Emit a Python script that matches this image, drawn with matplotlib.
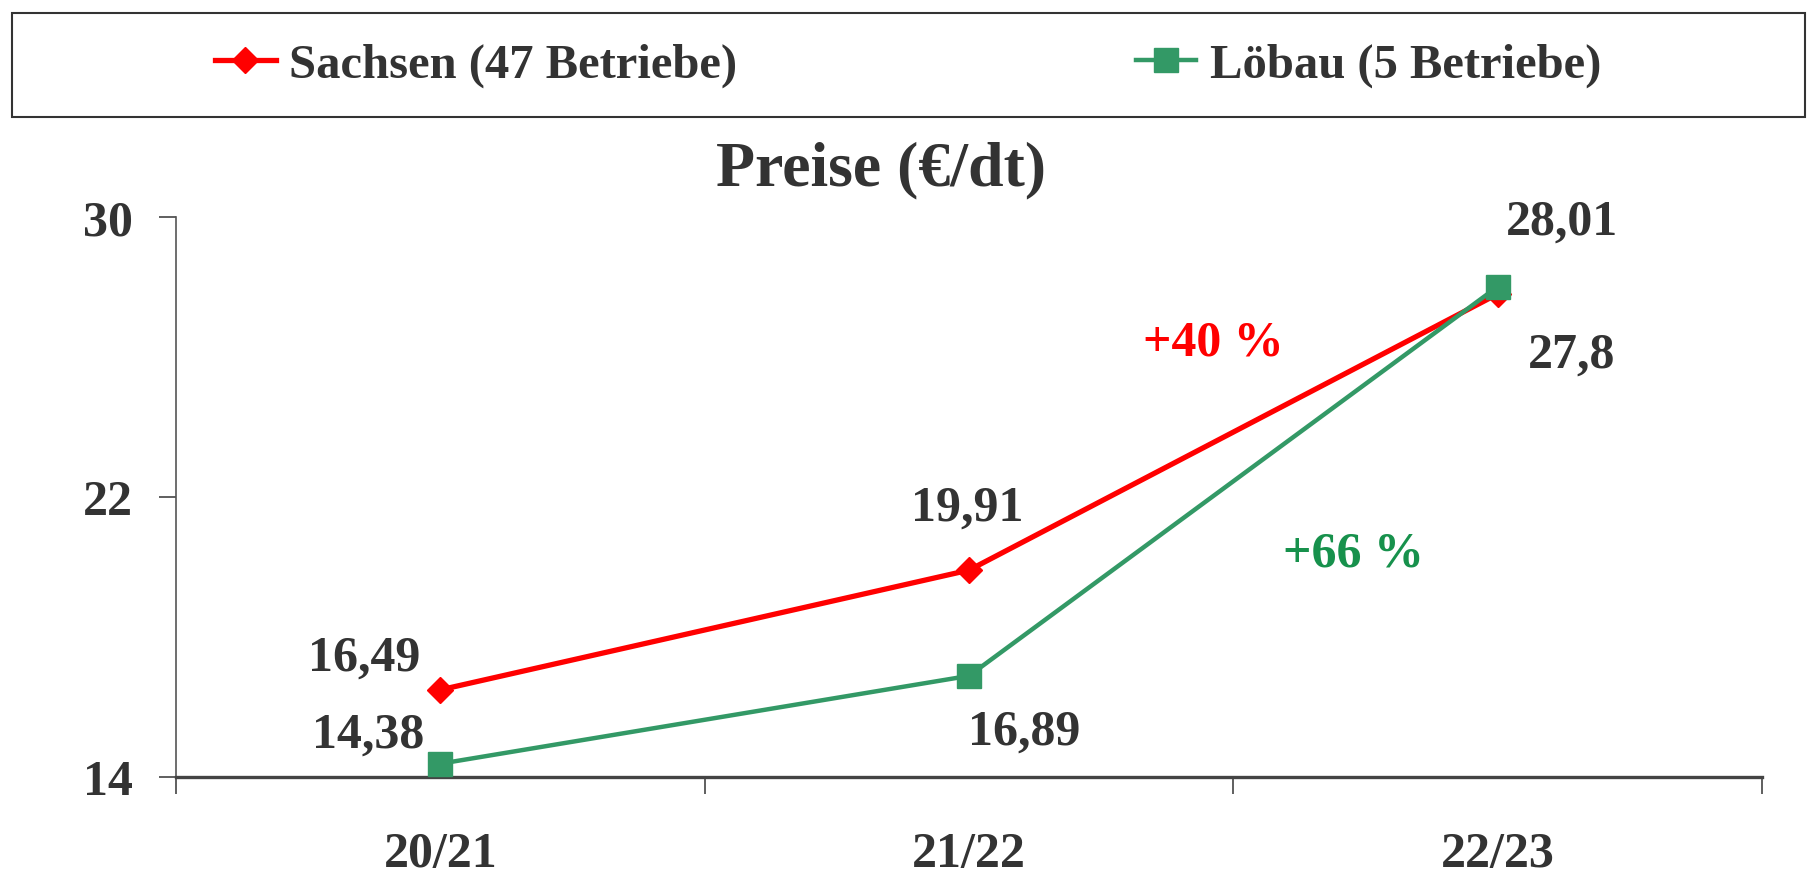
import matplotlib
matplotlib.use("Agg")
import matplotlib.pyplot as plt
from matplotlib.patches import Rectangle
from matplotlib.lines import Line2D

plt.rcParams['font.family'] = ['Liberation Serif', 'DejaVu Serif']
plt.rcParams['font.weight'] = 'bold'

seasons = ['20/21', '21/22', '22/23']
sachsen = [16.49, 19.91, 27.8]
loebau = [14.38, 16.89, 28.01]
sachsen_lbl = ['16,49', '19,91', '27,8']
loebau_lbl = ['14,38', '16,89', '28,01']
# label offsets in points (dx, dy)
sachsen_off = [(-55, 23), (-1, 45), (53, -44)]
loebau_off = [(-52, 21), (40, -40), (46, 47)]

TXT = '#333333'
RED = '#ff0000'
GREEN = '#339966'

fig = plt.figure(figsize=(18.08, 8.7), dpi=100)
ax = fig.add_axes([176 / 1808, 1 - 778 / 870, 1586 / 1808, 560 / 870])

x = list(range(len(seasons)))
ax.plot(x, sachsen, color=RED, lw=3.8, marker='D', ms=13, zorder=3)
ax.plot(x, loebau, color=GREEN, lw=3.2, marker='s', ms=17, zorder=4)

for xi, v, s, off in zip(x, sachsen, sachsen_lbl, sachsen_off):
    ax.annotate(s, (xi, v), xytext=off, textcoords='offset points',
                ha='center', va='center', fontsize=36, color=TXT)
for xi, v, s, off in zip(x, loebau, loebau_lbl, loebau_off):
    ax.annotate(s, (xi, v), xytext=off, textcoords='offset points',
                ha='center', va='center', fontsize=36, color=TXT)

ax.text(0.654, 0.776, '+40 %', transform=ax.transAxes, ha='center', va='center',
        fontsize=36, color=RED)
ax.text(0.7425, 0.399, '+66 %', transform=ax.transAxes, ha='center', va='center',
        fontsize=36, color='#17914c')

ax.set_xlim(-0.5, 2.5)
ax.set_ylim(14, 30)
ax.set_yticks([14, 22, 30])
ax.set_xticks(x)
ax.set_xticklabels(seasons)
ax.set_xticks([-0.5, 0.5, 1.5, 2.5], minor=True)
ax.tick_params(axis='x', which='major', length=0, pad=39, labelsize=36, labelcolor=TXT)
ax.tick_params(axis='x', which='minor', length=12, width=1.2, color='#444444', direction='out')
ax.tick_params(axis='y', length=12, width=1.2, color='#444444', pad=19, labelsize=36,
               labelcolor=TXT, direction='out')

for side in ['top', 'right']:
    ax.spines[side].set_visible(False)
ax.spines['left'].set_color('#555555')
ax.spines['left'].set_linewidth(1.2)
ax.spines['bottom'].set_color('#444444')
ax.spines['bottom'].set_linewidth(2.4)

fig.text(881 / 1808, 1 - 170 / 870, 'Preise (€/dt)', ha='center', va='center',
         fontsize=46, color=TXT)

# legend box spanning the width
fig.patches.append(Rectangle((12 / 1808, 1 - 118 / 870), 1793 / 1808, 104 / 870,
                             transform=fig.transFigure, fill=False,
                             edgecolor='#333333', lw=1.5))
handles = [Line2D([], [], color=RED, lw=3.8, marker='D', ms=13),
           Line2D([], [], color=GREEN, lw=3.2, marker='s', ms=17)]
fig.legend(handles, ['Sachsen (47 Betriebe)', 'Löbau (5 Betriebe)'],
           loc='center', bbox_to_anchor=(908 / 1808, 1 - 66 / 870), ncol=2,
           frameon=False, fontsize=35, handlelength=1.25, handletextpad=0.27,
           columnspacing=8.2, labelcolor=TXT, borderpad=0)

fig.savefig('out.png', dpi=100)
